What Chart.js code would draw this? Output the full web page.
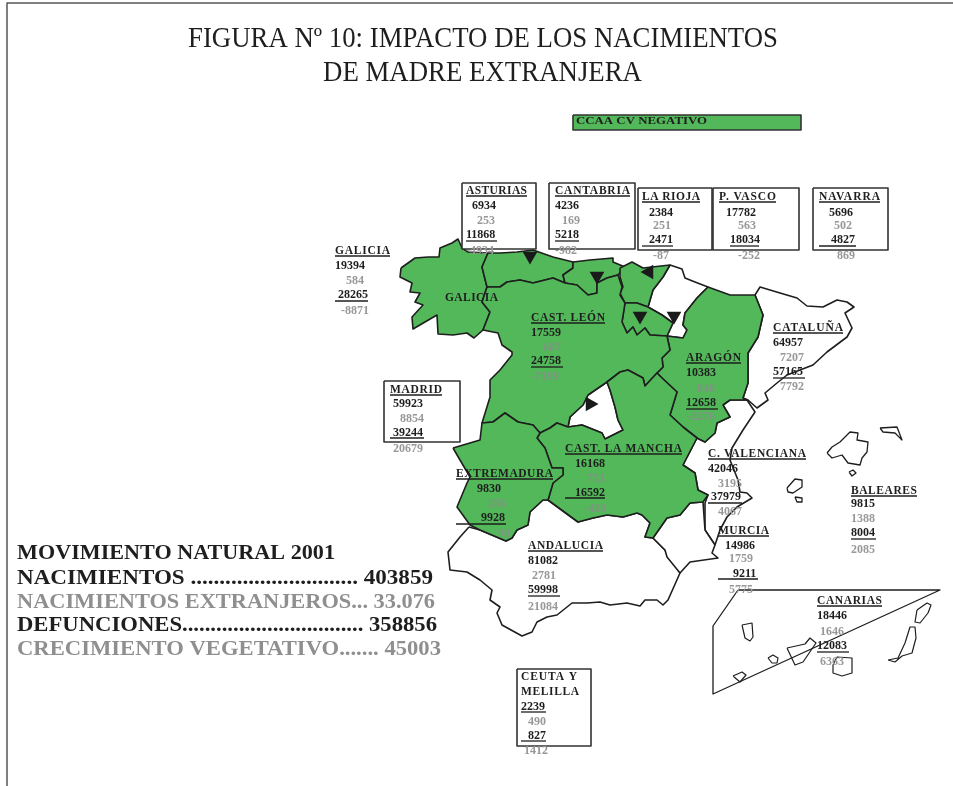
<!DOCTYPE html>
<html>
<head>
<meta charset="utf-8">
<title>Figura 10</title>
<script src="https://cdn.jsdelivr.net/npm/chart.js@4"></script>
<style>
  html, body { margin: 0; padding: 0; background: #fff; }
  canvas { display: block; }
</style>
</head>
<body>
<canvas id="myChart" width="953" height="786"></canvas>
<script>
// values per comunidad, same order everywhere
const regiones = ['GALICIA', 'ASTURIAS', 'CANTABRIA', 'LA RIOJA', 'P. VASCO', 'NAVARRA', 'CATALUÑA', 'ARAGÓN', 'CAST. LEÓN', 'MADRID', 'CAST. LA MANCHA', 'EXTREMADURA', 'ANDALUCIA', 'C. VALENCIANA', 'MURCIA', 'BALEARES', 'CANARIAS', 'CEUTA Y MELILLA'];
const nacimientos = ['19394', '6934', '4236', '2384', '17782', '5696', '64957', '10383', '17559', '59923', '16168', '9830', '81082', '42046', '14986', '9815', '18446', '2239'];
const extranjeros = ['584', '253', '169', '251', '563', '502', '7207', '848', '687', '8854', '751', '256', '2781', '3195', '1759', '1388', '1646', '490'];
const defunciones = ['28265', '11868', '5218', '2471', '18034', '4827', '57165', '12658', '24758', '39244', '16592', '9928', '59998', '37979', '9211', '8004', '12083', '827'];
const crecimiento = ['-8871', '-4934', '-982', '-87', '-252', '869', '7792', '-2276', '-7199', '20679', '-424', '98', '21084', '4067', '5775', '2085', '6363', '1412'];

// where each row sits: [x, y]; names also carry their width
const posNombre = [[335,250,55],[466,190,61],[555,190,75],[642,196,58],[719,196,57],[819,196,61],[773,327,70],[686,357,55],[531,317,74],[390,389,52],[565,448,117],[456,473,97],[528,545,75],[708,453,98],[718,530,51],[851,490,66],[817,600,65],[521,676,56]];
const posNac = [[335,265],[472,205],[555,205],[649,212],[726,212],[829,212],[773,342],[686,372],[531,332],[393,403],[575,463],[477,488],[528,560],[708,468],[725,545],[851,503],[817,615],[521,706]];
const posExt = [[346,280],[477,220],[562,220],[653,225],[738,225],[834,225],[780,357],[697,388],[543,347],[400,418],[587,478],[488,503],[532,575],[718,483],[729,558],[851,518],[820,631],[528,721]];
const posDef = [[338,295],[466,235],[555,235],[649,240],[730,240],[831,240],[773,372],[686,403],[531,361],[393,433],[575,493],[481,518],[528,590],[711,497],[733,574],[851,533],[817,646],[528,736]];
const posCv = [[341,310],[466,250],[555,250],[653,255],[738,255],[837,255],[780,386],[687,416],[531,376],[393,448],[584,508],[498,533],[528,606],[718,511],[729,589],[851,549],[820,661],[524,750]];
const subrayaDef = [[335,368,301],[466,497,241],[555,579,241],[642,673,246],[730,759,246],[819,856,246],[773,805,378],[686,718,409],[531,563,367],[390,424,438],[565,605,498],[456,506,524],[528,560,596],[708,742,503],[718,758,579],[851,876,539],[817,849,652],[521,546,741]];
const sobreVerde = ['ARAGÓN', 'CAST. LEÓN', 'CAST. LA MANCHA', 'EXTREMADURA'];

// map outlines
const galicia = [[401,268],[415,258],[428,257],[439,257],[440,248],[452,243],[458,239],[462,248],[468,252],[488,253],[482,267],[487,287],[482,302],[490,312],[483,330],[474,338],[467,333],[453,335],[438,334],[437,315],[413,329],[412,317],[423,305],[415,302],[420,293],[410,292],[412,283],[400,277]];
const asturias = [[488,253],[500,253],[517,252],[533,250],[553,257],[573,262],[573,268],[563,275],[565,283],[553,278],[533,283],[520,280],[507,282],[500,287],[487,287],[482,267]];
const cantabria = [[573,262],[590,260],[613,258],[613,262],[625,267],[618,275],[607,278],[597,283],[597,293],[588,295],[577,285],[565,283],[563,275],[573,268]];
const pVasco = [[620,268],[632,262],[643,268],[670,265],[663,277],[653,290],[648,307],[637,303],[625,303],[620,293],[623,287],[620,277]];
const laRioja = [[625,303],[637,303],[648,307],[662,315],[673,323],[667,336],[650,335],[645,328],[637,335],[633,327],[627,333],[622,322]];
const navarra = [[670,265],[682,269],[685,278],[695,282],[708,287],[697,298],[685,313],[683,325],[687,330],[683,338],[667,336],[673,323],[662,315],[648,307],[653,290],[663,277]];
const aragon = [[708,287],[730,295],[755,295],[763,315],[758,337],[748,353],[748,383],[743,398],[747,400],[730,400],[723,405],[730,417],[717,423],[715,433],[705,442],[697,438],[683,427],[670,415],[677,392],[662,378],[657,373],[663,367],[662,358],[670,350],[667,336],[683,338],[687,330],[683,325],[685,313],[697,298]];
const cataluna = [[755,295],[760,287],[780,293],[797,298],[807,306],[823,307],[837,300],[847,302],[854,307],[845,313],[852,328],[847,337],[827,352],[813,365],[787,375],[777,383],[765,393],[768,400],[757,408],[748,400],[743,398],[748,383],[748,353],[758,337],[763,315]];
const castLeon = [[487,287],[500,287],[507,282],[520,280],[533,283],[553,278],[565,283],[577,285],[588,295],[597,293],[597,283],[607,278],[618,275],[622,287],[620,295],[625,303],[622,322],[627,333],[633,327],[637,335],[645,328],[650,335],[667,336],[670,350],[662,358],[663,367],[657,373],[645,386],[643,378],[628,370],[620,372],[607,382],[588,395],[583,405],[570,417],[568,427],[557,423],[550,428],[540,433],[533,425],[518,422],[505,413],[493,422],[482,423],[490,397],[490,380],[500,370],[512,355],[512,352],[502,345],[498,333],[483,330],[490,312],[482,302]];
const madrid = [[607,382],[588,395],[583,405],[570,417],[568,427],[582,425],[602,433],[605,439],[623,430],[618,420],[615,407],[610,390]];
const castMancha = [[540,433],[550,428],[557,423],[568,427],[582,425],[602,433],[605,439],[623,430],[618,420],[615,407],[610,390],[607,382],[620,372],[628,370],[643,378],[645,386],[657,373],[662,378],[677,392],[670,415],[683,427],[697,438],[683,465],[695,473],[698,490],[708,495],[703,502],[690,503],[680,515],[667,518],[653,538],[645,537],[650,523],[642,515],[637,513],[623,517],[607,515],[593,518],[578,522],[548,500],[553,483],[563,475],[563,468],[552,468],[545,448],[537,438]];
const extremadura = [[453,448],[480,440],[482,423],[493,422],[505,413],[518,422],[533,425],[540,433],[537,438],[545,448],[552,468],[563,468],[563,475],[553,483],[548,500],[543,500],[530,512],[528,525],[517,530],[512,538],[506,541],[480,530],[470,525],[457,507],[467,483],[470,477],[460,460]];
const andalucia = [[469,527],[460,537],[448,552],[450,570],[467,572],[480,580],[492,590],[490,600],[500,607],[497,613],[502,625],[522,636],[532,632],[537,622],[547,617],[557,615],[572,603],[587,603],[600,602],[610,605],[627,603],[640,606],[645,600],[657,600],[663,605],[668,600],[680,573],[665,550],[653,538],[645,537],[650,523],[642,515],[637,513],[623,517],[607,515],[593,518],[578,522],[548,500],[543,500],[530,512],[528,525],[517,530],[512,538],[506,541],[480,530]];
const valencia = [[747,400],[755,412],[743,430],[732,448],[730,460],[738,480],[740,492],[747,493],[752,498],[737,507],[727,517],[720,530],[715,545],[705,530],[705,503],[708,495],[698,490],[695,473],[683,465],[697,438],[705,442],[715,433],[717,423],[730,417],[723,405],[730,400]];
const murcia = [[715,545],[712,553],[718,558],[690,562],[680,573],[667,557],[665,550],[653,538],[667,518],[680,515],[690,503],[703,502],[705,530]];
const mallorca = [[827,453],[832,447],[840,442],[850,432],[858,433],[857,440],[868,442],[867,452],[862,458],[860,465],[848,463],[842,455],[832,458]];
const menorca = [[880,428],[897,427],[902,440],[895,433],[883,432]];
const cabrera = [[849,472],[853,470],[856,473],[852,476]];
const ibiza = [[787,488],[795,479],[802,480],[802,487],[793,493],[788,492]];
const formentera = [[795,497],[802,498],[802,502],[797,502]];
const marcoCanarias = [[738,590],[940,590],[713,694],[713,626]];
const laPalma = [[742,625],[752,623],[753,637],[750,641],[745,638]];
const gomera = [[768,658],[773,655],[778,658],[777,663],[772,663]];
const hierro = [[733,676],[742,672],[746,675],[740,682]];
const tenerife = [[787,648],[805,644],[810,638],[816,643],[803,662],[795,665]];
const granCanaria = [[833,665],[837,657],[852,658],[852,673],[842,676],[833,673]];
const fuerteventura = [[888,660],[898,658],[905,643],[910,627],[915,627],[916,638],[912,653],[902,656],[895,662]];
const lanzarote = [[917,610],[927,603],[931,605],[928,613],[920,623],[915,622]];

// label boxes and the legend swatch
const cajas = [[462,183,536,249],[549,183,635,249],[638,188,712,250],[713,188,799,250],[813,188,888,250],[384,381,460,442],[517,669,591,746]];
const leyendaCaja = [573,115,801,130];
const marco = [[7,786],[7,3],[953,3]];

// triangle markers and their direction in degrees
const triangulos = [[530,256],[597,276],[649,272],[640,316],[674,316],[590,404]];
const giroTriangulos = [180, 180, 270, 180, 180, 90];

const tituloLineas = ['FIGURA Nº 10: IMPACTO DE LOS NACIMIENTOS', 'DE MADRE EXTRANJERA'];
const resumenLineas = ['MOVIMIENTO NATURAL 2001', 'NACIMIENTOS ............................. 403859', 'NACIMIENTOS EXTRANJEROS... 33.076', 'DEFUNCIONES................................ 358856', 'CRECIMIENTO VEGETATIVO....... 45003'];
const leyendaTexto = 'CCAA CV NEGATIVO';

const VERDE = '#52b85a';
const NEGRO = '#1e1e1e';
const GRIS = '#989898';
const GRIS_VERDE = '#7f9581';

function toPoints(list) {
  return list.map(p => ({ x: p[0], y: p[1] }));
}

function poly(list, fillColor, width) {
  return {
    data: toPoints(list.concat([list[0]])),
    showLine: true,
    fill: fillColor ? 'shape' : false,
    backgroundColor: fillColor || 'transparent',
    borderColor: NEGRO,
    borderWidth: width || 1.6,
    borderJoinStyle: 'round',
    pointRadius: 0,
    clip: false
  };
}

function rect(b, fillColor, color) {
  const d = poly([[b[0],b[1]],[b[2],b[1]],[b[2],b[3]],[b[0],b[3]]], fillColor, 1.6);
  d.borderColor = color;
  return d;
}

const datasets = [];
// white regions first, green ones on top of them
[andalucia, valencia, murcia, cataluna, navarra, madrid].forEach(r => datasets.push(poly(r, '#ffffff')));
[galicia, asturias, cantabria, pVasco, laRioja, aragon, castLeon, castMancha, extremadura].forEach(r => datasets.push(poly(r, VERDE)));
[mallorca, menorca, cabrera, ibiza, formentera].forEach(r => datasets.push(poly(r, null, 1.3)));
datasets.push(poly(marcoCanarias, null, 1.3));
[laPalma, gomera, hierro, tenerife, granCanaria, fuerteventura, lanzarote].forEach(r => datasets.push(poly(r, null, 1.2)));
cajas.forEach(b => datasets.push(rect(b, '#ffffff', '#333333')));
datasets.push(rect(leyendaCaja, VERDE, '#333333'));

const marcoSet = poly(marco, null, 1.5);
marcoSet.data = toPoints(marco);
marcoSet.borderColor = '#555555';
datasets.push(marcoSet);

datasets.push({
  data: toPoints(triangulos),
  showLine: false,
  pointStyle: 'triangle',
  pointRadius: 8.5,
  pointRotation: giroTriangulos,
  pointBackgroundColor: '#1a1a1a',
  pointBorderColor: '#1a1a1a',
  pointBorderWidth: 0,
  clip: false
});

datasets.forEach((d, i) => { d.order = -i; });

// draws text at map coordinates; w squeezes or stretches the glyphs to a width
function put(chart, text, x, y, font, color, w, dy) {
  const ctx = chart.ctx;
  const px = chart.scales.x.getPixelForValue(x);
  const py = chart.scales.y.getPixelForValue(y);
  ctx.save();
  ctx.font = font;
  ctx.fillStyle = color;
  ctx.textBaseline = 'middle';
  ctx.textAlign = 'left';
  ctx.translate(px, py + (dy || 0));
  if (w) {
    ctx.scale(w / ctx.measureText(text).width, 1);
  }
  ctx.fillText(text, 0, 0);
  ctx.restore();
}

// same but opens the letters up instead of scaling them, the names look like that
function putSpaced(chart, text, x, y, font, color, w) {
  const ctx = chart.ctx;
  ctx.save();
  ctx.font = font;
  ctx.fillStyle = color;
  ctx.textBaseline = 'middle';
  ctx.textAlign = 'left';
  const natural = ctx.measureText(text).width;
  ctx.letterSpacing = ((w - natural) / (text.length - 1)).toFixed(3) + 'px';
  ctx.fillText(text, chart.scales.x.getPixelForValue(x), chart.scales.y.getPixelForValue(y) + 1);
  ctx.restore();
}

function rule(chart, x0, x1, y, color) {
  const ctx = chart.ctx;
  ctx.strokeStyle = color;
  ctx.lineWidth = 1.3;
  ctx.beginPath();
  ctx.moveTo(chart.scales.x.getPixelForValue(x0), chart.scales.y.getPixelForValue(y));
  ctx.lineTo(chart.scales.x.getPixelForValue(x1), chart.scales.y.getPixelForValue(y));
  ctx.stroke();
}

const textPlugin = {
  id: 'textos',
  afterDatasetsDraw(chart) {
    const ctx = chart.ctx;
    ctx.save();
    const serif = '"Liberation Serif", serif';
    const bold = 'bold 12px ' + serif;
    const boldName = 'bold 11.5px ' + serif;

    put(chart, tituloLineas[0], 188, 38, '29px ' + serif, NEGRO, 590, 1.5);
    put(chart, tituloLineas[1], 323, 72, '29px ' + serif, NEGRO, 319, 1.5);
    put(chart, leyendaTexto, 576, 121, 'bold 11px ' + serif, NEGRO, 131, 0.5);

    regiones.forEach((name, i) => {
      const n = posNombre[i];
      const soft = sobreVerde.includes(name) ? GRIS_VERDE : GRIS;
      if (name === 'CEUTA Y MELILLA') {
        putSpaced(chart, 'CEUTA Y', n[0], n[1], boldName, NEGRO, n[2]);
        putSpaced(chart, 'MELILLA', n[0], n[1] + 15, boldName, NEGRO, n[2] + 2);
      } else {
        putSpaced(chart, name, n[0], n[1], boldName, NEGRO, n[2]);
        rule(chart, n[0], n[0] + n[2], n[1] + 6, NEGRO);
      }
      put(chart, nacimientos[i], posNac[i][0], posNac[i][1], bold, NEGRO, null, 0.5);
      put(chart, extranjeros[i], posExt[i][0], posExt[i][1], bold, soft, null, 0.5);
      put(chart, defunciones[i], posDef[i][0], posDef[i][1], bold, NEGRO, null, 0);
      rule(chart, subrayaDef[i][0], subrayaDef[i][1], subrayaDef[i][2], NEGRO);
      put(chart, crecimiento[i], posCv[i][0], posCv[i][1], bold, soft, null, 0.5);
    });
    // 2239 is the underlined one in the Ceuta box too
    rule(chart, 521, 546, 712, NEGRO);

    putSpaced(chart, 'GALICIA', 445, 297, boldName, NEGRO, 53);

    const big = 'bold 22px ' + serif;
    const anchos = [318, 416, 418, 420, 424];
    const altos = [552, 577, 601, 624, 648];
    resumenLineas.forEach((t, i) => {
      put(chart, t, 17, altos[i], big, i === 2 || i === 4 ? '#8f8f8f' : NEGRO, anchos[i], 1.5);
    });
    ctx.restore();
  }
};

// Initialize the chart
new Chart(document.getElementById('myChart').getContext('2d'), {
  type: 'scatter',
  data: { datasets: datasets },
  options: {
    responsive: false,
    animation: false,
    layout: { padding: 0, autoPadding: false },
    events: [],
    scales: {
      x: { type: 'linear', min: 0, max: 953, display: false },
      y: { type: 'linear', min: 0, max: 786, reverse: true, display: false }
    },
    plugins: {
      legend: { display: false },
      tooltip: { enabled: false },
      title: { display: false }
    }
  },
  plugins: [textPlugin]
});
</script>
</body>
</html>
